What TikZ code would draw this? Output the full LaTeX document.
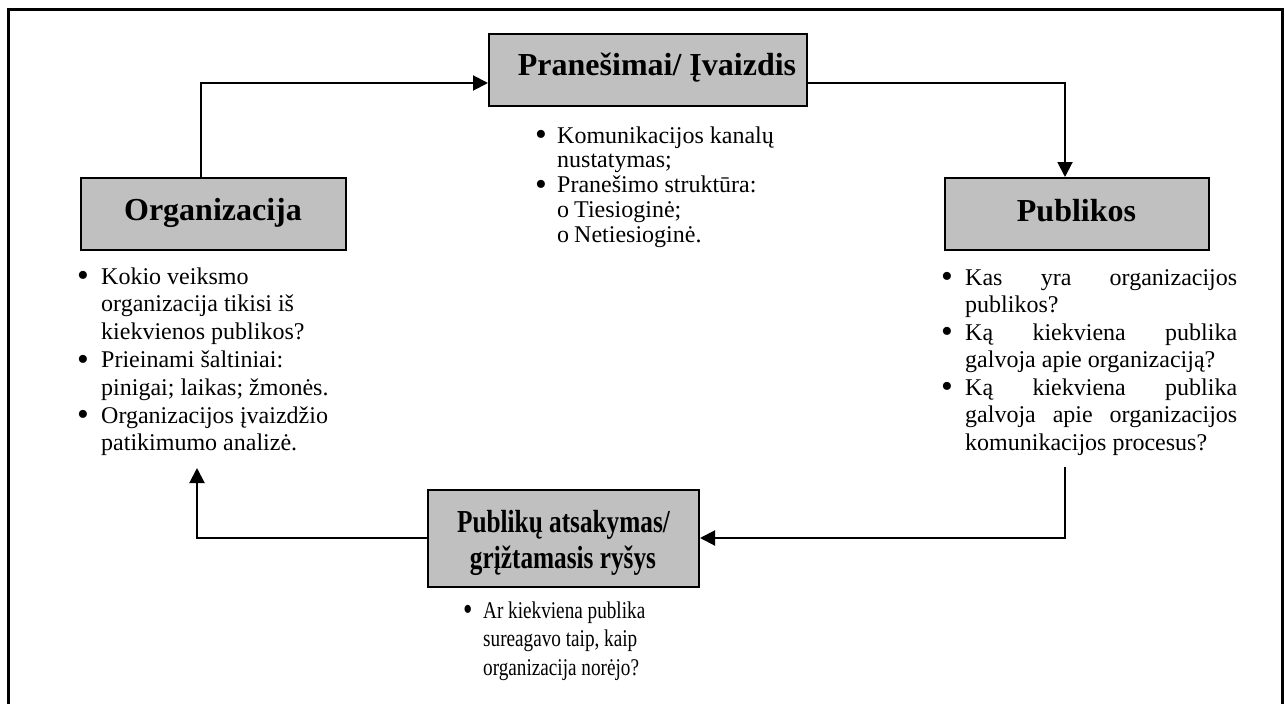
\documentclass[tikz,border=0pt]{standalone}
\usepackage{graphicx}
\usepackage{fontspec}
\setmainfont{Liberation Serif}
\usetikzlibrary{arrows.meta}
\definecolor{boxgray}{RGB}{192,192,192}
% bullet mark in a box of given width
\newcommand{\dotmark}[1]{\makebox[#1][l]{\raisebox{-2.6pt}{\scalebox{1.4}{\textbullet}}}}
\newcommand{\subo}{\makebox[17pt][l]{o}}
\begin{document}
\begin{tikzpicture}[x=1pt,y=-1pt,
  stagebox/.style={draw=black, line width=2pt, fill=boxgray, inner sep=0pt},
  stagetitle/.style={font=\fontsize{32}{36}\selectfont\bfseries, inner sep=0pt, anchor=base},
  notes/.style={inner sep=0pt, anchor=base west},
  flow/.style={line width=2pt, -{Triangle[length=15pt,width=15pt]}}
]
\useasboundingbox (0,0) rectangle (1285,704);
\clip (0,0) rectangle (1285,704);

% open frame (bottom edge lies below the page)
\draw[line width=3pt] (8,720) -- (8,9) -- (1282,9) -- (1282,720);

% stage boxes
\node[stagebox, minimum width=318pt, minimum height=72pt] (msg)  at (648,70) {};
\node[stagebox, minimum width=265pt, minimum height=72pt] (org)  at (213.5,214) {};
\node[stagebox, minimum width=264pt, minimum height=72pt] (pub)  at (1077,214) {};
\node[stagebox, minimum width=271pt, minimum height=97pt] (resp) at (563.5,538.5) {};

% titles
\node[stagetitle] (msgT) at (657,75) {Pranešimai/ Įvaizdis};
\node[stagetitle] (orgT) at (213,220) {Organizacija};
\node[stagetitle] (pubT) at (1076.5,221) {Publikos};
\node[stagetitle] (respTa) at (563.5,532) {\scalebox{0.79}[1]{Publikų atsakymas/}};
\node[stagetitle] (respTb) at (563,568) {\scalebox{0.79}[1]{grįžtamasis ryšys}};

% cycle connectors
\coordinate (tl) at (201,83);
\coordinate (tr) at (1065,83);
\coordinate (rs) at (1065,467);
\coordinate (br) at (1065,538);
\coordinate (bl) at (197,538);
\coordinate (le) at (197,468);
\draw[flow] (org.north -| tl) -- (tl) -- (msg.west |- tl);
\draw[flow] (msg.east |- tr) -- (tr) -- (pub.north -| tr);
\draw[flow] (rs) -- (br) -- (resp.east |- br);
\draw[flow] (resp.west |- bl) -- (bl) -- (le);

% notes under each stage
\node[notes, font=\fontsize{24}{24.8}\selectfont] (msgL) at (535,143) {%
\begin{tabular}[t]{@{}l@{}l@{}}
\dotmark{22pt} & Komunikacijos kanalų\\
 & nustatymas;\\
\dotmark{22pt} & Pranešimo struktūra:\\
 & \subo Tiesioginė;\\
 & \subo Netiesioginė.
\end{tabular}};

\node[notes, font=\fontsize{24}{27.8}\selectfont] (orgL) at (77,284) {%
\begin{tabular}[t]{@{}l@{}l@{}}
\dotmark{24pt} & Kokio veiksmo\\
 & organizacija tikisi iš\\
 & kiekvienos publikos?\\
\dotmark{24pt} & Prieinami šaltiniai:\\
 & pinigai; laikas; žmonės.\\
\dotmark{24pt} & Organizacijos įvaizdžio\\
 & patikimumo analizė.
\end{tabular}};

\node[notes, font=\fontsize{24}{27.5}\selectfont] (pubL) at (941,285) {%
\begin{tabular}[t]{@{}l@{}l@{}}
\dotmark{24pt} & \makebox[272pt][s]{Kas yra organizacijos}\\
 & publikos?\\
\dotmark{24pt} & \makebox[272pt][s]{Ką kiekviena publika}\\
 & galvoja apie organizaciją?\\
\dotmark{24pt} & \makebox[272pt][s]{Ką kiekviena publika}\\
 & \makebox[272pt][s]{galvoja apie organizacijos}\\
 & komunikacijos procesus?
\end{tabular}};

\node[notes, font=\fontsize{24}{28.5}\selectfont] (respL) at (463,618) {%
\scalebox{0.8}[1]{\begin{tabular}[t]{@{}l@{}l@{}}
\dotmark{25pt} & Ar kiekviena publika\\
 & sureagavo taip, kaip\\
 & organizacija norėjo?
\end{tabular}}};
\end{tikzpicture}
\end{document}
